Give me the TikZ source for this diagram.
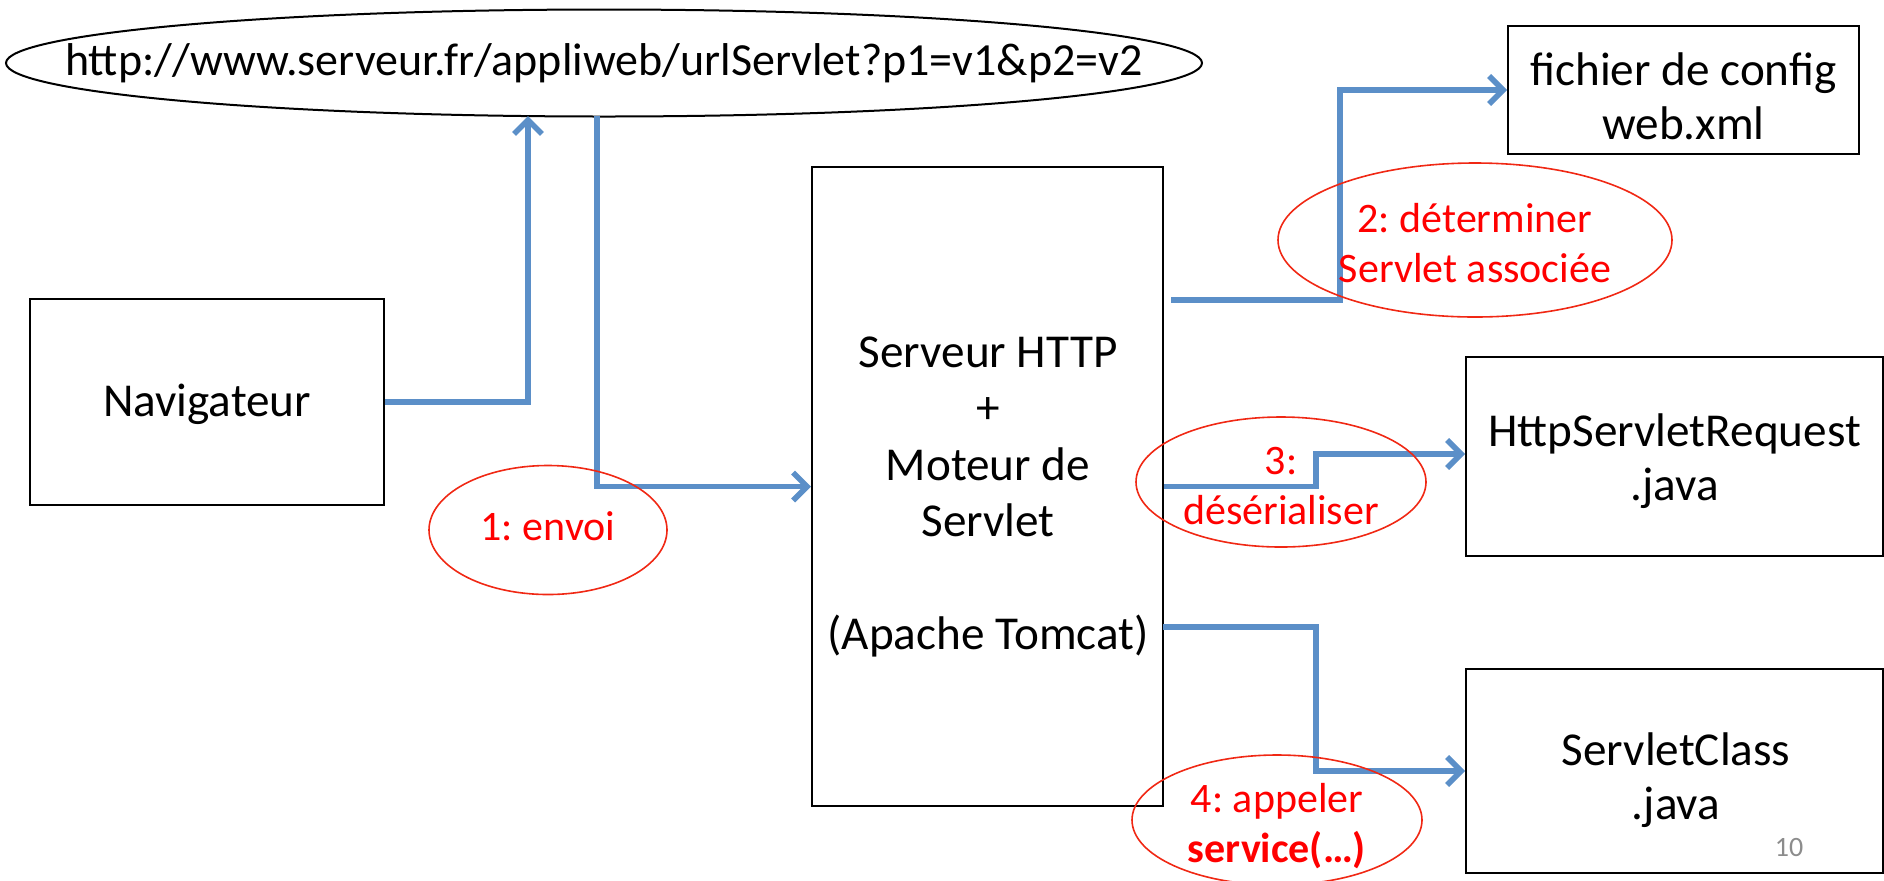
\documentclass[tikz,border=0pt]{standalone}
\usepackage{fontspec}
\setmainfont{Carlito}
\usetikzlibrary{arrows.meta,shapes.geometric}
\definecolor{flow}{RGB}{91,143,200}
\definecolor{pagenum}{RGB}{140,140,140}
\definecolor{note}{RGB}{255,0,0}
\definecolor{noteline}{RGB}{240,40,20}
\frenchspacing
\begin{document}
\begin{tikzpicture}[x=0.5pt,y=-0.5pt,
  box/.style={draw=black,line width=1pt,inner sep=0pt},
  txt/.style={inner sep=0pt,align=center,font=\fontsize{23.6}{27}\selectfont},
  redtxt/.style={inner sep=0pt,align=center,text=note,font=\fontsize{21}{25.3}\selectfont},
  oval/.style={ellipse,draw=noteline,line width=0.8pt,inner sep=0pt},
  flowline/.style={draw=flow,line width=2.8pt,
    -{Straight Barb[length=7pt,width=14pt]}}]
\useasboundingbox (0,0) rectangle (1884,880);

% boxes
\node[ellipse,draw=black,line width=1pt,inner sep=0pt,minimum width=598pt,minimum height=53.5pt] (url) at (604,63) {};
\node[txt,font=\fontsize{23}{27}\selectfont] (urltxt) at (url.center) {http://www.serveur.fr/appliweb/urlServlet?p1=v1\&p2=v2};
\node[box,minimum width=177pt,minimum height=103pt] (nav) at (207,402) {};
\node[txt] (navtxt) at (207,404) {Navigateur};
\node[box,minimum width=175.5pt,minimum height=319.5pt] (srv) at (987.5,486.5) {};
\node[txt,font=\fontsize{23.6}{28.2}\selectfont] (srvtxt) at (988,497) {Serveur HTTP\\+\\Moteur de\\Servlet\\[28.2pt](Apache Tomcat)};
\node[box,minimum width=175.5pt,minimum height=64pt] (cfg) at (1683.5,90) {};
\node[txt] (cfgtxt) at (1683.5,96) {fichier de config\\web.xml};
\node[box,minimum width=208.5pt,minimum height=99.5pt] (req) at (1674.5,456.5) {};
\node[txt] (reqtxt) at (1674.5,461) {HttpServletRequest\\.java};
\node[box,minimum width=208.5pt,minimum height=102pt] (cls) at (1674.5,771) {};
\node[txt] (clstxt) at (1676,780) {ServletClass\\.java};
\node[inner sep=0pt,text=pagenum,font=\fontsize{14}{16}\selectfont] (pg) at (1789,847) {10};

% connectors
\coordinate (c1) at (528,116);
\coordinate (c2) at (597,116);
\draw[flowline] (nav.east) -| (c1);
\draw[flowline] (c2) |- (srv.west);

\coordinate (s2) at (1171,300);
\coordinate (k2) at (1340,300);
\draw[flowline] (s2) -- (k2) |- (cfg.west);

\coordinate (k3) at (1316,486.5);
\coordinate (k3b) at (1316,454);
\draw[flowline] (srv.east) -- (k3) -- (k3b) -- (k3b -| req.west);

\coordinate (s4) at (1163,627);
\coordinate (k4) at (1316,627);
\draw[flowline] (s4) -- (k4) |- (cls.west);

% red notes
\node[oval,minimum width=119pt,minimum height=64.5pt] (e1) at (548,530) {};
\node[redtxt] (t1) at (548,526) {1: envoi};
\node[oval,minimum width=197pt,minimum height=77pt] (e2) at (1475,240) {};
\node[redtxt] (t2) at (1475,243) {2: déterminer\\Servlet associée};
\node[oval,minimum width=145pt,minimum height=65pt] (e3) at (1281,482) {};
\node[redtxt] (t3) at (1281,486) {3:\\désérialiser};
\node[oval,minimum width=145pt,minimum height=65pt] (e4) at (1277,820) {};
\node[redtxt] (t4) at (1277,826) {4: appeler\\\textbf{service(…)}};
\end{tikzpicture}
\end{document}
